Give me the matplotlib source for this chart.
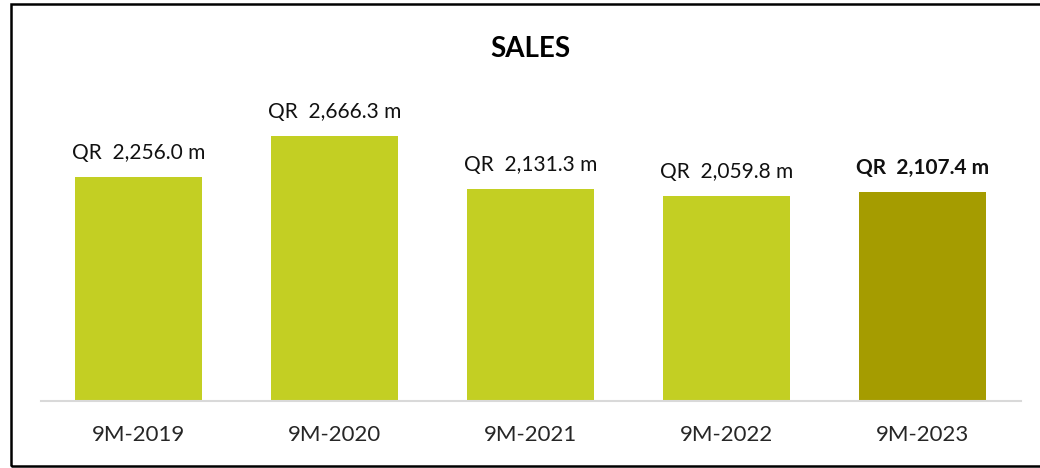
import matplotlib
matplotlib.use("Agg")
import matplotlib.pyplot as plt
from matplotlib.patches import Rectangle

categories = ["9M-2019", "9M-2020", "9M-2021", "9M-2022", "9M-2023"]
sales = [2256.0, 2666.3, 2131.3, 2059.8, 2107.4]
labels = ["QR  2,256.0 m", "QR  2,666.3 m", "QR  2,131.3 m", "QR  2,059.8 m", "QR  2,107.4 m"]
highlight = [False, False, False, False, True]

LIGHT = "#C3CF23"
DARK = "#A59C00"
FONT = "Lato"

W, H = 1040, 468
fig = plt.figure(figsize=(W / 100, H / 100), dpi=100)
fig.patch.set_facecolor("white")

ax = fig.add_axes([40.5 / W, 67 / H, 980 / W, 298 / H])
x = list(range(len(categories)))
colors = [DARK if h else LIGHT for h in highlight]
bars = ax.bar(x, sales, width=0.65, color=colors, zorder=2)

ax.set_xlim(-0.5, len(categories) - 0.5)
ax.set_ylim(0, 3000)
ax.set_yticks([])
ax.set_xticks(x)
ax.set_xticklabels(categories, fontsize=16, family=FONT, color="#262626")
ax.tick_params(axis="x", length=0, pad=17)
for s in ["top", "right", "left"]:
    ax.spines[s].set_visible(False)
ax.spines["bottom"].set_color("#D9D9D9")
ax.spines["bottom"].set_linewidth(1.5)

for xi, v, lab, h in zip(x, sales, labels, highlight):
    ax.annotate(lab, (xi, v), xytext=(0, 13), textcoords="offset points",
                ha="center", va="baseline", fontsize=15, family=FONT,
                fontweight="bold" if h else "normal", color="#111111")

fig.text(530.5 / W, 1 - 56.7 / H, "SALES", ha="center", va="baseline",
         fontsize=20, fontweight="bold", family=FONT, color="#000000")

fig.patches.append(Rectangle((11 / W, 2.5 / H), 1.2, 1 - 6 / H,
                             transform=fig.transFigure, fill=False,
                             edgecolor="black", linewidth=1.8))

fig.savefig("out.png", dpi=100, facecolor="white")
